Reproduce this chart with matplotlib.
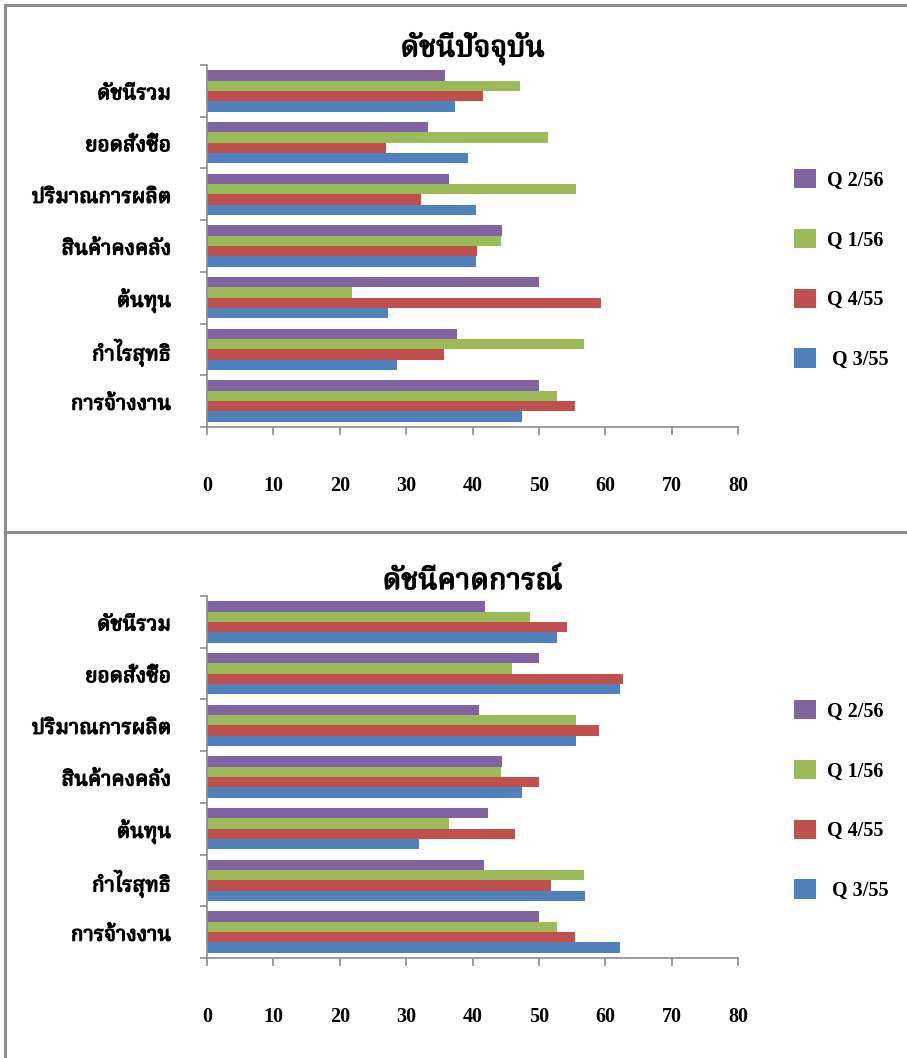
import matplotlib
matplotlib.use('Agg')
import matplotlib.pyplot as plt
import matplotlib.patheffects as pe
import numpy as np
from matplotlib import font_manager
from matplotlib.ft2font import FT2Font
from matplotlib.lines import Line2D
from matplotlib.ticker import FixedLocator

# ข้อมูล (เรียงจากล่างขึ้นบน)
categories = ['การจ้างงาน', 'กำไรสุทธิ', 'ต้นทุน', 'สินค้าคงคลัง',
              'ปริมาณการผลิต', 'ยอดสั่งซื้อ', 'ดัชนีรวม']
series = [' Q 3/55', 'Q 4/55', 'Q 1/56', 'Q 2/56']
colors = ['#4F81BD', '#C0504D', '#9BBB59', '#8064A2']
x_ticks = [0, 10, 20, 30, 40, 50, 60, 70, 80]

# ดัชนีปัจจุบัน
current_q355 = [47.5, 28.6, 27.2, 40.6, 40.6, 39.3, 37.4]
current_q455 = [55.4, 35.7, 59.4, 40.7, 32.2, 26.9, 41.6]
current_q156 = [52.7, 56.8, 21.8, 44.3, 55.6, 51.4, 47.2]
current_q256 = [50.0, 37.6, 50.0, 44.4, 36.5, 33.3, 35.9]

# ดัชนีคาดการณ์
forecast_q355 = [62.2, 56.9, 32.0, 47.4, 55.6, 62.2, 52.7]
forecast_q455 = [55.4, 51.8, 46.4, 50.0, 59.0, 62.6, 54.2]
forecast_q156 = [52.7, 56.8, 36.4, 44.3, 55.6, 45.9, 48.6]
forecast_q256 = [50.0, 41.7, 42.3, 44.4, 41.0, 50.0, 41.9]


def find_thai_font():
    # หา font ที่มีตัวอักษรไทย
    prefer = ['Angsana New', 'TH Sarabun New', 'Norasi', 'Noto Serif Thai',
              'Kinnari', 'Noto Sans Thai', 'Garuda', 'Loma']
    found = []
    for f in font_manager.fontManager.ttflist:
        try:
            if 0x0E01 in FT2Font(f.fname).get_charmap():
                found.append(f.name)
        except Exception:
            pass
    for p in prefer:
        if p in found:
            return p
    return found[0] if found else 'DejaVu Sans'


thai = find_thai_font()
thai_family = [thai, 'DejaVu Sans']
num_family = ['Liberation Serif', 'DejaVu Serif']
gray = '#8c8c8c'
# ทำให้ตัวหนังสือไทยดูหนาขึ้น
bold_fx = [pe.withStroke(linewidth=0.9, foreground='black')]


def draw_panel(ax, title, values):
    y = np.arange(len(categories))
    offsets = [-0.3, -0.1, 0.1, 0.3]
    handles = []
    for vals, off, c, lab in zip(values, offsets, colors, series):
        handles.append(ax.barh(y + off, vals, height=0.2, color=c, label=lab))

    ax.set_xlim(0, 80)
    ax.set_ylim(-0.5, len(categories) - 0.5)
    ax.set_xticks(x_ticks)
    ax.set_xticklabels([str(t) for t in x_ticks], family=num_family,
                       fontweight='bold', fontsize=14.5)
    ax.set_yticks(y)
    ax.set_yticklabels(categories, family=thai_family, fontweight='bold',
                       fontsize=15, path_effects=bold_fx)
    ax.yaxis.set_minor_locator(FixedLocator(np.arange(-0.5, len(categories), 1)))
    ax.tick_params(axis='y', which='major', length=0, pad=26)
    ax.tick_params(axis='y', which='minor', length=5, width=1.2, color=gray)
    ax.tick_params(axis='x', length=6, width=1.2, color=gray, pad=29)

    for s in ['top', 'right']:
        ax.spines[s].set_visible(False)
    for s in ['left', 'bottom']:
        ax.spines[s].set_color(gray)
        ax.spines[s].set_linewidth(1.2)

    ax.set_title(title, family=thai_family, fontweight='bold', fontsize=21,
                 pad=1, path_effects=[pe.withStroke(linewidth=1.0, foreground='black')])

    ax.legend(handles[::-1], series[::-1], loc='center left',
              bbox_to_anchor=(1.086, 0.435), frameon=False, borderpad=0,
              handlelength=1.1, handleheight=1.1, handletextpad=0.55,
              labelspacing=1.9,
              prop={'family': num_family, 'weight': 'bold', 'size': 14.5})


fig = plt.figure(figsize=(9.07, 10.58), dpi=100)
W, H = 907, 1058

ax1 = fig.add_axes([207 / W, (H - 427) / H, 531 / W, 362 / H])
draw_panel(ax1, 'ดัชนีปัจจุบัน', [current_q355, current_q455, current_q156, current_q256])

ax2 = fig.add_axes([207 / W, (H - 958) / H, 531 / W, 362 / H])
draw_panel(ax2, 'ดัชนีคาดการณ์', [forecast_q355, forecast_q455, forecast_q156, forecast_q256])

# กรอบของแผนภูมิ
fig.add_artist(Line2D([5 / W, 5 / W], [0, 1 - 5 / H], color=gray, lw=2.2))
fig.add_artist(Line2D([5 / W, 1], [1 - 5 / H, 1 - 5 / H], color=gray, lw=2.2))
fig.add_artist(Line2D([5 / W, 1], [1 - 532 / H, 1 - 532 / H], color=gray, lw=2.2))

fig.savefig('out.png', dpi=100)
